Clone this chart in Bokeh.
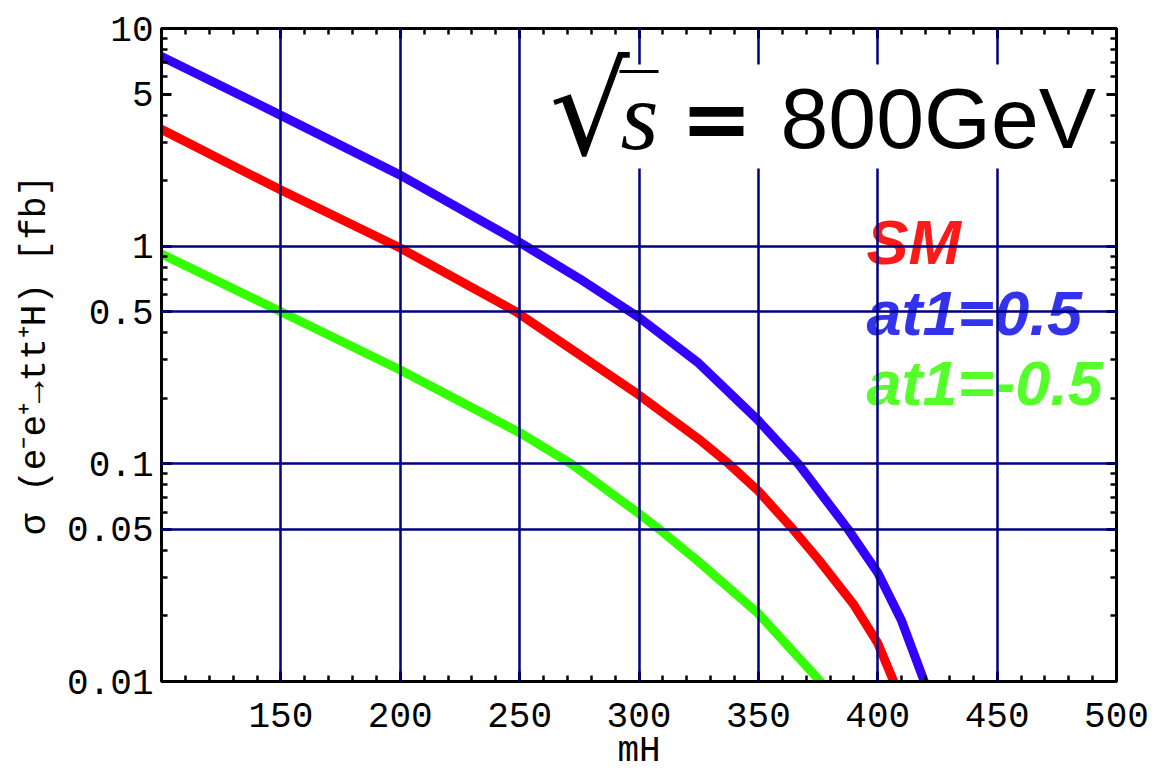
from bokeh.plotting import figure
from bokeh.models import (Label, BoxAnnotation, FixedTicker, LinearAxis, LogAxis,
                          CustomJSTickFormatter, Range1d)
from bokeh.embed import file_html
from bokeh.resources import INLINE

# ---------------- data ----------------
x_at1_pos = [100, 150, 200, 250, 275, 300, 325, 350, 366.7, 387.6, 400, 410, 419.5]
y_at1_pos = [7.44, 3.99, 2.12, 1.04, 0.71, 0.47, 0.29, 0.158, 0.1, 0.05, 0.0316, 0.019, 0.01]

x_sm = [100, 150, 200, 248.5, 300, 325, 337.6, 350, 364.5, 375, 390, 400, 406.7]
y_sm = [3.44, 1.81, 0.98, 0.5, 0.207, 0.13, 0.1, 0.075, 0.05, 0.0365, 0.0225, 0.015, 0.01]

x_at1_neg = [100, 150, 200, 250, 271.6, 300, 308.5, 325, 350, 376]
y_at1_neg = [0.92, 0.5, 0.27, 0.139, 0.1, 0.059, 0.05, 0.0355, 0.0205, 0.01]

x_major_ticks = [150, 200, 250, 300, 350, 400, 450, 500]
x_minor_ticks = list(range(100, 501, 10))
x_grid_lines = [150, 200, 250, 300, 350, 400, 450]
y_major_ticks = [0.01, 0.05, 0.1, 0.5, 1, 5, 10]
y_minor_ticks = [0.02, 0.03, 0.04, 0.06, 0.07, 0.08, 0.09,
                 0.2, 0.3, 0.4, 0.6, 0.7, 0.8, 0.9,
                 2, 3, 4, 6, 7, 8, 9]
y_grid_lines = [0.05, 0.1, 0.5, 1]

series_names = ["SM", "at1=0.5", "at1=-0.5"]
line_colors = ["#ff0000", "#3300ff", "#33ff00"]
text_colors = ["#ff1a1a", "#3333ee", "#55ff2a"]

# ---------------- layout helpers (page pixel -> data) ----------------
FL, FR, FT, FB = 161, 1116, 28, 681
W, H = 1154, 774
BASE_K = 0.33   # empirical offset of the alphabetic baseline (fraction of font size)


def dx(px):
    return 100 + (px - FL) * 400.0 / (FR - FL)


def dy(py):
    return 10 ** (1 - (py - FT) * 3.0 / (FB - FT))


def by(baseline_px, size):
    return dy(baseline_px - BASE_K * size)


p = figure(width=W, height=H, x_range=Range1d(100, 500), y_range=Range1d(0.01, 10),
           y_axis_type="log", output_backend="svg", toolbar_location=None,
           min_border_left=FL, min_border_top=FT,
           min_border_right=W - FR, min_border_bottom=H - FB)
p.background_fill_color = "white"
p.border_fill_color = "white"
p.outline_line_color = "black"
p.outline_line_width = 3

TICK_FONT = "Liberation Mono"
fmt = CustomJSTickFormatter(code="return tick.toString();")
blank = CustomJSTickFormatter(code="return '';")

xt = FixedTicker(ticks=x_major_ticks, minor_ticks=x_minor_ticks)
yt = FixedTicker(ticks=y_major_ticks, minor_ticks=y_minor_ticks)


def style_axis(ax):
    ax.axis_line_color = "black"
    ax.axis_line_width = 3
    ax.major_tick_in = 10
    ax.major_tick_out = 0
    ax.minor_tick_in = 6
    ax.minor_tick_out = 0
    ax.major_tick_line_width = 3
    ax.minor_tick_line_width = 2.5
    ax.major_tick_line_color = "black"
    ax.minor_tick_line_color = "black"
    ax.major_label_text_font = TICK_FONT
    ax.major_label_text_font_size = "36px"
    ax.major_label_text_color = "black"


xa = p.xaxis[0]
xa.ticker = xt
xa.formatter = fmt
style_axis(xa)
xa.major_label_standoff = 21
xa.axis_label = "mH"
xa.axis_label_text_font = TICK_FONT
xa.axis_label_text_font_size = "36px"
xa.axis_label_text_font_style = "normal"
xa.axis_label_text_color = "black"
xa.axis_label_standoff = 1

ya = p.yaxis[0]
ya.ticker = yt
ya.formatter = fmt
style_axis(ya)
ya.major_label_standoff = 8
ya.axis_label = "σ (e⁻e⁺→tt⁺H) [fb]"
ya.axis_label_text_font = TICK_FONT
ya.axis_label_text_font_size = "36px"
ya.axis_label_text_font_style = "normal"
ya.axis_label_text_color = "black"
ya.axis_label_standoff = 8

top = LinearAxis(ticker=xt, formatter=blank)
style_axis(top)
top.major_label_text_font_size = "1px"
top.major_label_standoff = 0
p.add_layout(top, "above")

right = LogAxis(ticker=yt, formatter=blank)
style_axis(right)
right.major_label_text_font_size = "1px"
right.major_label_standoff = 0
p.add_layout(right, "right")

# grid: navy lines drawn over the curves
p.xgrid.ticker = FixedTicker(ticks=x_grid_lines)
p.ygrid.ticker = FixedTicker(ticks=y_grid_lines)
for g in (p.xgrid[0], p.ygrid[0]):
    g.grid_line_color = "#000080"
    g.grid_line_width = 2.5
    g.level = "guide"

# curves
for xs, ys, c in [(x_at1_pos, y_at1_pos, line_colors[1]),
                  (x_sm, y_sm, line_colors[0]),
                  (x_at1_neg, y_at1_neg, line_colors[2])]:
    p.line(xs, ys, line_color=c, line_width=9, line_join="round", line_cap="round")

# legend texts
LEG = 63
legend_baselines = [262, 333, 403]
for name, col, base in zip(series_names, text_colors, legend_baselines):
    p.add_layout(Label(x=dx(866), y=by(base, LEG), text=name, text_color=col,
                       text_font="Liberation Sans", text_font_style="bold italic",
                       text_font_size=f"{LEG}px", text_baseline="alphabetic",
                       text_align="left", level="glyph"))

# sqrt(s) = 800GeV title box
p.add_layout(BoxAnnotation(left=dx(553), right=dx(1097), top=dy(64), bottom=dy(168),
                           fill_color="white", fill_alpha=1.0, line_alpha=0,
                           level="annotation"))
RAD = 126
p.add_layout(Label(x=dx(549), y=by(152, RAD), text="√", text_color="black",
                   text_font="DejaVu Sans", text_font_size=f"{RAD}px",
                   text_baseline="alphabetic", level="overlay"))
SS = 98
p.add_layout(Label(x=dx(620), y=by(148, SS), text="s", text_color="black",
                   text_font="Liberation Serif", text_font_style="italic",
                   text_font_size=f"{SS}px", text_baseline="alphabetic", level="overlay"))
EQ = 86
p.add_layout(Label(x=dx(716), y=by(146, EQ), text="=", text_color="black",
                   text_font="DejaVu Sans", text_font_style="bold",
                   text_font_size=f"{EQ}px", text_baseline="alphabetic",
                   text_align="center", level="overlay"))
p.add_layout(Label(x=dx(780), y=by(146, EQ), text="800GeV", text_color="black",
                   text_font="Liberation Sans", text_font_size=f"{EQ}px",
                   text_baseline="alphabetic", level="overlay"))
vinc = p.segment(x0=[dx(619)], y0=[dy(71)], x1=[dx(658)], y1=[dy(71)],
                 line_color="black", line_width=3)
vinc.level = "overlay"

open("out.html", "w").write(file_html(p, INLINE))
